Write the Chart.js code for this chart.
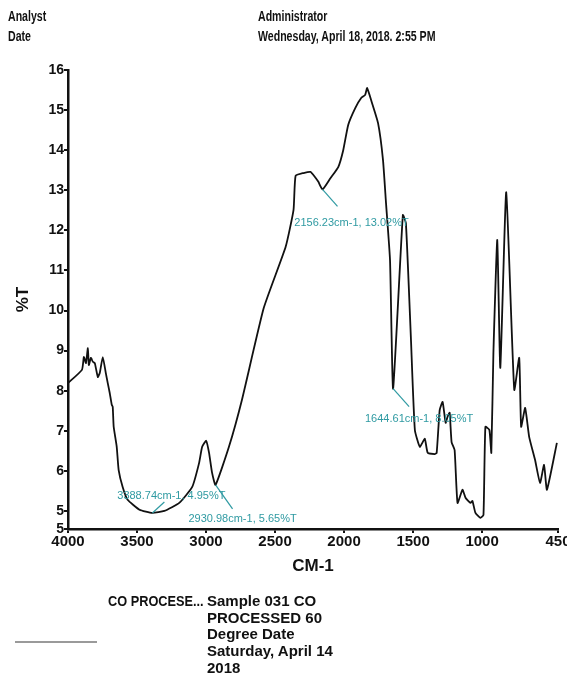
<!DOCTYPE html>
<html>
<head>
<meta charset="utf-8">
<script src="https://cdn.jsdelivr.net/npm/chart.js@4.4.1/dist/chart.umd.min.js"></script>
<style>
  html, body { margin: 0; padding: 0; background: #fff; }
  #wrap { position: relative; width: 567px; height: 679px; overflow: hidden;
          font-family: 'Liberation Sans', Arial, sans-serif; font-weight: bold; color: #111; }
  #chart { position: absolute; left: 0; top: 0; }
  .t { position: absolute; white-space: nowrap; transform-origin: 0 0; }
  .hdr { font-size: 14.5px; transform: scaleX(0.73); }
  .ftr { font-size: 15px; line-height: 16.7px; }
  .narrow { transform: scaleX(0.85); }
  #rule { position: absolute; left: 15px; top: 641px; width: 82px; height: 2px; background: #9a9a9a; }
</style>
</head>
<body>
<div id="wrap">
  <canvas id="chart" width="567" height="679"></canvas>
  <div class="t hdr" style="left:8px; top:8px;">Analyst</div>
  <div class="t hdr" style="left:8px; top:28px;">Date</div>
  <div class="t hdr" style="left:258px; top:8px;">Administrator</div>
  <div class="t hdr" style="left:258px; top:28px;">Wednesday, April 18, 2018. 2:55 PM</div>
  <div class="t ftr narrow" style="left:108px; top:593px;">CO PROCESE...</div>
  <div class="t ftr" style="left:207px; top:593px;">Sample 031 CO<br>PROCESSED 60<br>Degree Date<br>Saturday, April 14<br>2018</div>
  <div id="rule"></div>
</div>
<script>
// ── Spectrum data ────────────────────────────────────────
const wavenumbers = [
  4000, 3899, 3885, 3870, 3856, 3849, 3834, 3820, 3806, 3784, 3770, 3748, 3726, 3712,
  3698, 3683, 3676, 3669, 3647, 3633, 3604, 3568, 3482, 3388.74, 3302, 3194, 3100, 3050,
  3028, 2999, 2978, 2956, 2930.98, 2834, 2740, 2582, 2423, 2366, 2351, 2294, 2243, 2222,
  2186, 2156.23, 2099, 2042, 2006, 1970, 1919, 1876, 1847, 1833, 1804, 1754, 1718, 1696,
  1667, 1644.61, 1574, 1552, 1516, 1487, 1451, 1415, 1394, 1343, 1329, 1307, 1286, 1264,
  1250, 1235, 1221, 1199, 1178, 1142, 1120, 1084, 1070, 1048, 1012, 990, 976, 947, 933,
  918, 890, 868, 825, 767, 731, 717, 688, 659, 616, 580, 551, 530, 458
];
const transmittance = [
  8.19, 8.52, 8.84, 8.69, 9.06, 8.64, 8.82, 8.72, 8.69, 8.34, 8.44, 8.84, 8.44, 8.19,
  7.95, 7.65, 7.60, 7.10, 6.60, 6.02, 5.60, 5.28, 5.03, 4.95, 5.00, 5.20, 5.60, 6.20,
  6.60, 6.75, 6.45, 5.95, 5.65, 6.60, 7.77, 10.06, 11.59, 12.51, 13.36, 13.43, 13.46, 13.38,
  13.21, 13.02, 13.30, 13.58, 14.00, 14.63, 15.05, 15.30, 15.38, 15.55, 15.25, 14.68, 13.76, 12.68,
  11.26, 8.05, 12.38, 12.18, 9.34, 7.02, 6.60, 6.80, 6.45, 6.42, 6.45, 7.52, 7.72, 7.20,
  7.35, 7.45, 6.72, 6.52, 5.20, 5.53, 5.33, 5.20, 5.25, 4.95, 4.83, 4.90, 7.10, 7.02, 6.45,
  8.94, 11.76, 8.57, 12.95, 8.02, 8.82, 7.10, 7.57, 6.85, 6.27, 5.70, 6.15, 5.53, 6.70
];

const xTicks = [4000, 3500, 3000, 2500, 2000, 1500, 1000, 450];
const yTicks = [4.55, 5, 6, 7, 8, 9, 10, 11, 12, 13, 14, 15, 16];

// peak picks shown on the plot
const peakWn   = [3388.74, 2930.98, 2156.23, 1644.61];
const peakT    = [4.95, 5.65, 13.02, 8.05];
const peakText = ['3388.74cm-1, 4.95%T', '2930.98cm-1, 5.65%T', '2156.23cm-1, 13.02%T', '1644.61cm-1, 8.05%T'];
// leader / label offsets in px (style only)
const peakOffsets = [
  { lx: 12, ly: -11, tx: 19, ty: -17 },
  { lx: 17, ly: 24, tx: 27, ty: 34 },
  { lx: 15, ly: 17, tx: 29, ty: 34 },
  { lx: 16, ly: 18, tx: 26, ty: 30 }
];

const TEAL = '#2f9aa2';
const FONT = "'Liberation Sans', Arial, sans-serif";

// ── Peak label plugin ────────────────────────────────────
const peakLabels = {
  id: 'peakLabels',
  afterDatasetsDraw(chart) {
    const { ctx, scales: { x, y } } = chart;
    ctx.save();
    ctx.font = '11px ' + FONT;
    ctx.textAlign = 'center';
    ctx.textBaseline = 'middle';
    peakWn.forEach((wn, i) => {
      const px = x.getPixelForValue(wn);
      const py = y.getPixelForValue(peakT[i]);
      const o = peakOffsets[i];
      ctx.strokeStyle = TEAL;
      ctx.lineWidth = 1.2;
      ctx.beginPath();
      ctx.moveTo(px, py);
      ctx.lineTo(px + o.lx, py + o.ly);
      ctx.stroke();
      ctx.fillStyle = TEAL;
      ctx.fillText(peakText[i], px + o.tx, py + o.ty);
    });
    ctx.restore();
  }
};

const points = wavenumbers.map((w, i) => ({ x: w, y: transmittance[i] }));

new Chart(document.getElementById('chart'), {
  type: 'line',
  data: {
    datasets: [{
      data: points,
      borderColor: '#111',
      borderWidth: 1.8,
      pointRadius: 0,
      tension: 0.15,
      fill: false
    }]
  },
  options: {
    responsive: false,
    animation: false,
    layout: { padding: { left: 0, top: 70, right: 9, bottom: 102 } },
    plugins: { legend: { display: false }, tooltip: { enabled: false } },
    scales: {
      x: {
        type: 'linear',
        reverse: true,
        min: 450, max: 4000,
        afterBuildTicks: s => { s.ticks = xTicks.map(v => ({ value: v })); },
        afterFit: s => { s.height = 48; s.paddingRight = 0; s.paddingLeft = 0; },
        grid: { drawOnChartArea: false, color: '#111', tickLength: 4, lineWidth: 2 },
        border: { color: '#111', width: 2.5 },
        ticks: {
          color: '#111', font: { family: FONT, size: 15, weight: 'bold' }, padding: 0, maxRotation: 0, autoSkip: false,
          callback: v => String(v)
        },
        title: { display: true, text: 'CM-1', color: '#111', font: { family: FONT, size: 17, weight: 'bold' }, padding: { top: 0, bottom: 0 } }
      },
      y: {
        min: 4.55, max: 16,
        afterBuildTicks: s => { s.ticks = yTicks.map(v => ({ value: v })); },
        afterFit: s => { s.width = 68; s.paddingTop = 0; s.paddingBottom = 0; },
        grid: { drawOnChartArea: false, color: '#111', tickLength: 4, lineWidth: 2 },
        border: { color: '#111', width: 2.5 },
        ticks: {
          color: '#111', font: { family: FONT, size: 14, weight: 'bold' }, padding: 0, autoSkip: false,
          callback: v => String(Math.round(v))
        },
        title: { display: true, text: '%T', color: '#111', font: { family: FONT, size: 17, weight: 'bold' }, padding: { top: 13, bottom: 0 } }
      }
    }
  },
  plugins: [peakLabels]
});
</script>
</body>
</html>
